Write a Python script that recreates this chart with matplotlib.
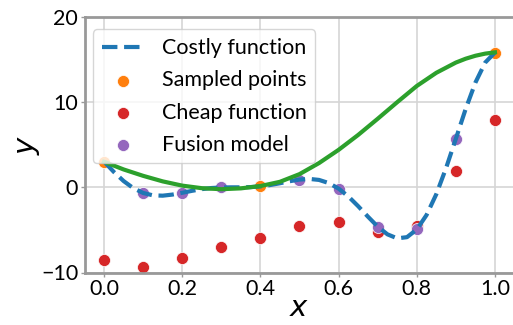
import matplotlib
matplotlib.use('Agg')
import matplotlib.pyplot as plt

plt.rcParams['font.family'] = ['Lato', 'DejaVu Sans']
plt.rcParams['mathtext.fontset'] = 'dejavusans'

# costly (high fidelity) function
costly_x = [0.0, 0.025, 0.05, 0.075, 0.1, 0.125, 0.15, 0.175, 0.2, 0.225,
            0.25, 0.275, 0.3, 0.325, 0.35, 0.375, 0.4, 0.425, 0.45, 0.475,
            0.5, 0.525, 0.55, 0.575, 0.6, 0.625, 0.65, 0.675, 0.7, 0.725,
            0.75, 0.775, 0.8, 0.825, 0.85, 0.875, 0.9, 0.925, 0.95, 0.975, 1.0]
costly_y = [3.03, 1.81, 0.74, -0.10, -0.66, -0.94, -0.98, -0.85, -0.64, -0.41,
            -0.21, -0.08, -0.02, 0.0, 0.0, 0.03, 0.11, 0.27, 0.48, 0.72,
            0.91, 0.99, 0.87, 0.50, -0.15, -1.07, -2.21, -3.44, -4.61, -5.52,
            -5.99, -5.85, -4.95, -3.25, -0.80, 2.27, 5.71, 9.19, 12.30, 14.65, 15.83]

# fusion model prediction (green curve)
fusion_x = [0.0, 0.05, 0.1, 0.15, 0.2, 0.25, 0.3, 0.35, 0.4, 0.45, 0.5,
            0.55, 0.6, 0.65, 0.7, 0.75, 0.8, 0.85, 0.9, 0.925, 0.95, 0.975, 1.0]
fusion_y = [3.0, 2.1, 1.35, 0.7, 0.2, -0.1, -0.22, -0.12, 0.15, 0.65, 1.55,
            2.85, 4.4, 6.15, 8.05, 10.0, 11.9, 13.45, 14.65, 15.1, 15.45, 15.7, 15.85]

sampled_x = [0.0, 0.4, 1.0]
sampled_y = [3.03, 0.11, 15.83]

cheap_x = [0.0, 0.1, 0.2, 0.3, 0.4, 0.5, 0.6, 0.7, 0.8, 0.9, 1.0]
cheap_y = [-8.5, -9.3, -8.3, -7.0, -5.9, -4.5, -4.1, -5.3, -4.5, 1.9, 7.9]

model_x = [0.1, 0.2, 0.3, 0.5, 0.6, 0.7, 0.8, 0.9]
model_y = [-0.66, -0.64, 0.05, 0.91, -0.15, -4.6, -4.95, 5.7]

fig = plt.figure(figsize=(5.13, 3.25), dpi=100)
ax = fig.add_axes([84.5 / 513, 52.5 / 325, 430 / 513, 255.5 / 325])

ax.plot(costly_x, costly_y, '--', color='tab:blue', lw=3, label='Costly function')
ax.scatter(sampled_x, sampled_y, s=75, color='tab:orange', edgecolor='white',
           linewidth=0.5, label='Sampled points')
ax.scatter(cheap_x, cheap_y, s=75, color='tab:red', edgecolor='white',
           linewidth=0.5, label='Cheap function')
ax.scatter(model_x, model_y, s=75, color='tab:purple', edgecolor='white',
           linewidth=0.5, label='Fusion model')
ax.plot(fusion_x, fusion_y, color='tab:green', lw=3)

ax.set_xlim(-0.05, 1.05)
ax.set_ylim(-10, 20)
ax.set_xticks([0.0, 0.2, 0.4, 0.6, 0.8, 1.0])
ax.set_yticks([-10, 0, 10, 20])
ax.grid(True, color='#d5d5d5', lw=1.2)
ax.set_axisbelow(True)
for sp in ax.spines.values():
    sp.set_color('#999999')
    sp.set_linewidth(2)
ax.tick_params(labelsize=15.5, length=3, width=1, pad=1.5, color='#999999')
ax.set_xlabel('$x$', fontsize=21, labelpad=-3)
ax.set_ylabel('$y$', fontsize=21, labelpad=-1)

ax.legend(loc='upper left', bbox_to_anchor=(0.0, 0.985), fontsize=15.5,
          borderaxespad=0.4, handletextpad=0.8, labelspacing=0.57, handlelength=2.0)

fig.savefig('out.png', dpi=100)
